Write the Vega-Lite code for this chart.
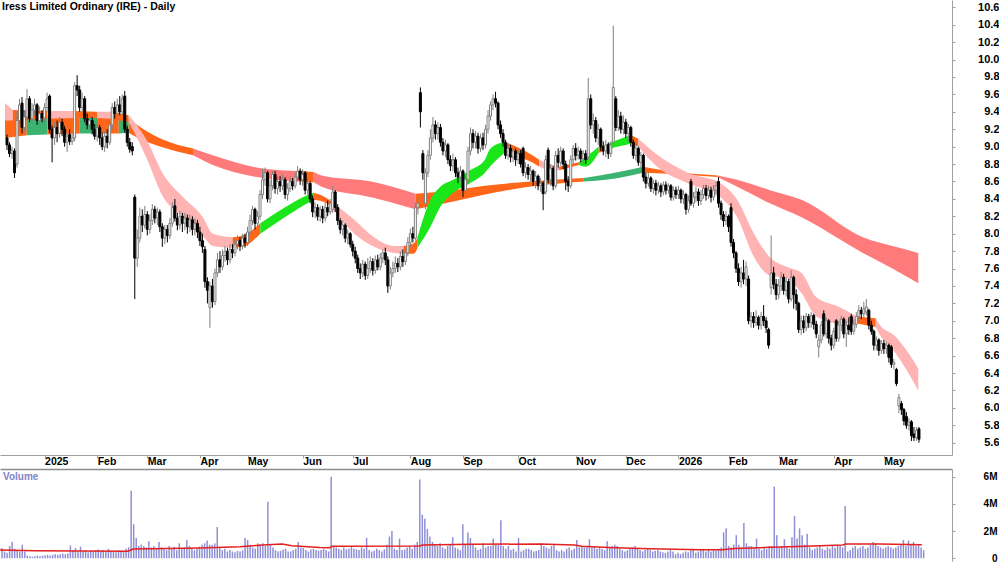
{
"$schema": "https://vega.github.io/schema/vega-lite/v6.json",
"padding": 0,
"background": "white",
"spacing": 14,
"bounds": "flush",
"config": {"view": {"stroke": null}, "font": "Liberation Sans"},
"datasets": {
"c": [
{"i":-15,"o":9.10,"h":9.14,"l":8.96,"c":9.02,"v":0.75},
{"i":-14,"o":9.02,"h":9.05,"l":8.88,"c":8.92,"v":0.5},
{"i":-13,"o":8.92,"h":9.00,"l":8.86,"c":8.96,"v":0.4},
{"i":-12,"o":8.95,"h":8.98,"l":8.64,"c":8.70,"v":0.9},
{"i":-11,"o":8.80,"h":9.40,"l":8.76,"c":9.30,"v":1.2},
{"i":-10,"o":9.30,"h":9.55,"l":9.26,"c":9.48,"v":0.7},
{"i":-9,"o":9.50,"h":9.57,"l":9.15,"c":9.22,"v":0.6},
{"i":-8,"o":9.22,"h":9.42,"l":9.18,"c":9.34,"v":0.5},
{"i":-7,"o":9.34,"h":9.66,"l":9.30,"c":9.55,"v":1.0},
{"i":-6,"o":9.55,"h":9.58,"l":9.28,"c":9.32,"v":0.5},
{"i":-5,"o":9.32,"h":9.50,"l":9.28,"c":9.42,"v":0.2},
{"i":-4,"o":9.42,"h":9.55,"l":9.36,"c":9.48,"v":0.15},
{"i":-3,"o":9.48,"h":9.50,"l":9.25,"c":9.30,"v":0.12},
{"i":-2,"o":9.30,"h":9.46,"l":9.26,"c":9.38,"v":0.15},
{"i":-1,"o":9.38,"h":9.42,"l":9.28,"c":9.33,"v":0.2},
{"i":0,"o":9.33,"h":9.50,"l":9.28,"c":9.45,"v":0.15},
{"i":1,"o":9.45,"h":9.62,"l":9.40,"c":9.55,"v":0.2},
{"i":2,"o":9.58,"h":9.60,"l":9.16,"c":9.20,"v":0.2},
{"i":3,"o":9.20,"h":9.24,"l":8.82,"c":9.10,"v":0.25},
{"i":4,"o":9.10,"h":9.28,"l":9.02,"c":9.22,"v":0.2},
{"i":5,"o":9.22,"h":9.30,"l":9.05,"c":9.15,"v":0.25},
{"i":6,"o":9.15,"h":9.34,"l":9.10,"c":9.28,"v":0.3},
{"i":7,"o":9.28,"h":9.32,"l":9.12,"c":9.20,"v":0.25},
{"i":8,"o":9.20,"h":9.24,"l":9.00,"c":9.05,"v":0.3},
{"i":9,"o":9.05,"h":9.18,"l":8.94,"c":9.12,"v":0.35},
{"i":10,"o":9.14,"h":9.20,"l":9.02,"c":9.06,"v":0.3},
{"i":11,"o":9.06,"h":9.16,"l":9.02,"c":9.10,"v":0.35},
{"i":12,"o":9.10,"h":9.74,"l":9.06,"c":9.70,"v":0.95},
{"i":13,"o":9.70,"h":9.82,"l":9.58,"c":9.65,"v":0.6},
{"i":14,"o":9.65,"h":9.70,"l":9.40,"c":9.45,"v":0.75},
{"i":15,"o":9.45,"h":9.62,"l":9.40,"c":9.55,"v":0.5},
{"i":16,"o":9.55,"h":9.58,"l":9.28,"c":9.32,"v":0.85},
{"i":17,"o":9.32,"h":9.38,"l":9.20,"c":9.25,"v":0.5},
{"i":18,"o":9.25,"h":9.36,"l":9.18,"c":9.30,"v":0.6},
{"i":19,"o":9.30,"h":9.34,"l":9.14,"c":9.20,"v":0.45},
{"i":20,"o":9.20,"h":9.26,"l":9.08,"c":9.12,"v":0.55},
{"i":21,"o":9.12,"h":9.28,"l":9.06,"c":9.22,"v":0.5},
{"i":22,"o":9.22,"h":9.25,"l":9.02,"c":9.10,"v":0.6},
{"i":23,"o":9.10,"h":9.16,"l":8.96,"c":9.00,"v":0.65},
{"i":24,"o":9.00,"h":9.18,"l":8.94,"c":9.12,"v":0.55},
{"i":25,"o":9.12,"h":9.20,"l":8.98,"c":9.05,"v":0.6},
{"i":26,"o":9.05,"h":9.30,"l":9.02,"c":9.25,"v":0.5},
{"i":27,"o":9.25,"h":9.50,"l":9.20,"c":9.45,"v":0.7},
{"i":28,"o":9.45,"h":9.52,"l":9.32,"c":9.38,"v":0.55},
{"i":29,"o":9.38,"h":9.55,"l":9.34,"c":9.48,"v":0.5},
{"i":30,"o":9.48,"h":9.58,"l":9.36,"c":9.40,"v":0.45},
{"i":31,"o":9.40,"h":9.60,"l":9.36,"c":9.55,"v":0.6},
{"i":32,"o":9.58,"h":9.64,"l":9.16,"c":9.20,"v":0.55},
{"i":33,"o":9.20,"h":9.24,"l":9.00,"c":9.05,"v":0.5},
{"i":34,"o":9.05,"h":9.10,"l":8.93,"c":8.97,"v":0.7},
{"i":35,"o":9.00,"h":9.05,"l":8.90,"c":8.95,"v":0.8},
{"i":36,"o":8.42,"h":8.45,"l":7.25,"c":7.72,"v":4.97},
{"i":37,"o":7.72,"h":8.05,"l":7.62,"c":7.95,"v":2.5},
{"i":38,"o":7.95,"h":8.30,"l":7.90,"c":8.20,"v":1.5},
{"i":39,"o":8.20,"h":8.28,"l":8.02,"c":8.10,"v":0.9},
{"i":40,"o":8.10,"h":8.32,"l":8.06,"c":8.22,"v":1.0},
{"i":41,"o":8.22,"h":8.26,"l":7.98,"c":8.05,"v":0.9},
{"i":42,"o":8.05,"h":8.22,"l":8.00,"c":8.15,"v":0.8},
{"i":43,"o":8.15,"h":8.34,"l":8.10,"c":8.28,"v":1.25},
{"i":44,"o":8.28,"h":8.32,"l":8.12,"c":8.18,"v":0.8},
{"i":45,"o":8.18,"h":8.30,"l":8.10,"c":8.25,"v":0.9},
{"i":46,"o":8.25,"h":8.28,"l":8.02,"c":8.08,"v":0.75},
{"i":47,"o":8.08,"h":8.12,"l":7.85,"c":7.95,"v":1.2},
{"i":48,"o":7.95,"h":8.10,"l":7.88,"c":8.05,"v":0.8},
{"i":49,"o":8.05,"h":8.10,"l":7.90,"c":7.98,"v":0.7},
{"i":50,"o":7.98,"h":8.18,"l":7.94,"c":8.12,"v":0.6},
{"i":51,"o":8.12,"h":8.36,"l":8.08,"c":8.30,"v":0.9},
{"i":52,"o":8.32,"h":8.40,"l":8.14,"c":8.18,"v":0.7},
{"i":53,"o":8.18,"h":8.24,"l":8.04,"c":8.10,"v":0.85},
{"i":54,"o":8.10,"h":8.26,"l":8.05,"c":8.20,"v":0.6},
{"i":55,"o":8.20,"h":8.24,"l":8.02,"c":8.12,"v":1.1},
{"i":56,"o":8.12,"h":8.24,"l":8.04,"c":8.18,"v":0.7},
{"i":57,"o":8.18,"h":8.22,"l":8.00,"c":8.08,"v":0.8},
{"i":58,"o":8.08,"h":8.22,"l":8.02,"c":8.16,"v":1.35},
{"i":59,"o":8.16,"h":8.20,"l":7.98,"c":8.05,"v":0.9},
{"i":60,"o":8.05,"h":8.18,"l":7.98,"c":8.12,"v":0.75},
{"i":61,"o":8.12,"h":8.16,"l":7.95,"c":8.02,"v":0.6},
{"i":62,"o":8.02,"h":8.08,"l":7.86,"c":7.92,"v":0.7},
{"i":63,"o":7.92,"h":8.00,"l":7.78,"c":7.85,"v":0.85},
{"i":64,"o":7.82,"h":7.86,"l":7.38,"c":7.45,"v":1.0},
{"i":65,"o":7.45,"h":7.50,"l":7.20,"c":7.35,"v":1.1},
{"i":66,"o":7.15,"h":7.45,"l":6.92,"c":7.40,"v":1.3},
{"i":67,"o":7.40,"h":7.48,"l":7.15,"c":7.22,"v":1.0},
{"i":68,"o":7.22,"h":7.60,"l":7.18,"c":7.55,"v":1.0},
{"i":69,"o":7.55,"h":7.78,"l":7.50,"c":7.70,"v":1.1},
{"i":70,"o":7.70,"h":7.80,"l":7.55,"c":7.62,"v":2.3},
{"i":71,"o":7.62,"h":7.82,"l":7.58,"c":7.75,"v":0.8},
{"i":72,"o":7.75,"h":7.86,"l":7.68,"c":7.80,"v":0.6},
{"i":73,"o":7.80,"h":7.84,"l":7.64,"c":7.70,"v":0.7},
{"i":74,"o":7.70,"h":7.88,"l":7.66,"c":7.82,"v":0.5},
{"i":75,"o":7.82,"h":7.88,"l":7.72,"c":7.78,"v":0.6},
{"i":76,"o":7.78,"h":7.94,"l":7.74,"c":7.88,"v":0.5},
{"i":77,"o":7.88,"h":7.98,"l":7.82,"c":7.92,"v":0.45},
{"i":78,"o":7.92,"h":7.96,"l":7.80,"c":7.86,"v":0.55},
{"i":79,"o":7.86,"h":8.00,"l":7.82,"c":7.95,"v":0.5},
{"i":80,"o":7.95,"h":8.00,"l":7.84,"c":7.90,"v":0.6},
{"i":81,"o":7.90,"h":8.08,"l":7.86,"c":8.02,"v":1.5},
{"i":82,"o":8.02,"h":8.22,"l":7.98,"c":8.15,"v":1.35},
{"i":83,"o":8.15,"h":8.32,"l":8.10,"c":8.28,"v":1.0},
{"i":84,"o":8.28,"h":8.30,"l":8.05,"c":8.12,"v":0.8},
{"i":85,"o":8.12,"h":8.26,"l":8.08,"c":8.20,"v":0.7},
{"i":86,"o":8.20,"h":8.50,"l":8.16,"c":8.45,"v":1.1},
{"i":87,"o":8.45,"h":8.75,"l":8.40,"c":8.62,"v":1.0},
{"i":88,"o":8.62,"h":8.76,"l":8.55,"c":8.70,"v":1.1},
{"i":89,"o":8.70,"h":8.72,"l":8.36,"c":8.40,"v":0.9},
{"i":90,"o":8.40,"h":8.62,"l":8.35,"c":8.55,"v":4.16},
{"i":91,"o":8.55,"h":8.72,"l":8.50,"c":8.68,"v":1.0},
{"i":92,"o":8.68,"h":8.72,"l":8.46,"c":8.52,"v":0.8},
{"i":93,"o":8.52,"h":8.66,"l":8.45,"c":8.60,"v":0.6},
{"i":94,"o":8.60,"h":8.66,"l":8.48,"c":8.55,"v":0.5},
{"i":95,"o":8.55,"h":8.68,"l":8.50,"c":8.62,"v":0.55},
{"i":96,"o":8.62,"h":8.65,"l":8.40,"c":8.45,"v":0.65},
{"i":97,"o":8.45,"h":8.58,"l":8.38,"c":8.52,"v":0.7},
{"i":98,"o":8.52,"h":8.66,"l":8.48,"c":8.60,"v":0.5},
{"i":99,"o":8.60,"h":8.64,"l":8.50,"c":8.55,"v":0.5},
{"i":100,"o":8.55,"h":8.70,"l":8.52,"c":8.65,"v":0.6},
{"i":101,"o":8.65,"h":8.78,"l":8.60,"c":8.72,"v":0.7},
{"i":102,"o":8.72,"h":8.75,"l":8.56,"c":8.62,"v":1.2},
{"i":103,"o":8.62,"h":8.74,"l":8.55,"c":8.68,"v":0.8},
{"i":104,"o":8.70,"h":8.72,"l":8.45,"c":8.50,"v":0.75},
{"i":105,"o":8.50,"h":8.64,"l":8.45,"c":8.58,"v":0.6},
{"i":106,"o":8.58,"h":8.60,"l":8.35,"c":8.40,"v":0.5},
{"i":107,"o":8.40,"h":8.44,"l":8.19,"c":8.25,"v":0.65},
{"i":108,"o":8.25,"h":8.36,"l":8.18,"c":8.30,"v":0.7},
{"i":109,"o":8.30,"h":8.34,"l":8.15,"c":8.20,"v":0.6},
{"i":110,"o":8.20,"h":8.32,"l":8.14,"c":8.28,"v":0.55},
{"i":111,"o":8.28,"h":8.32,"l":8.12,"c":8.18,"v":0.6},
{"i":112,"o":8.18,"h":8.36,"l":8.14,"c":8.30,"v":0.7},
{"i":113,"o":8.30,"h":8.38,"l":8.20,"c":8.25,"v":0.6},
{"i":114,"o":8.25,"h":8.40,"l":8.22,"c":8.35,"v":0.5},
{"i":115,"o":8.28,"h":8.55,"l":8.24,"c":8.48,"v":6.0},
{"i":116,"o":8.48,"h":8.50,"l":8.25,"c":8.30,"v":0.9},
{"i":117,"o":8.30,"h":8.34,"l":8.10,"c":8.15,"v":0.8},
{"i":118,"o":8.15,"h":8.18,"l":8.00,"c":8.05,"v":0.7},
{"i":119,"o":8.05,"h":8.15,"l":7.98,"c":8.10,"v":0.6},
{"i":120,"o":8.10,"h":8.12,"l":7.90,"c":7.95,"v":0.8},
{"i":121,"o":7.95,"h":8.05,"l":7.88,"c":8.00,"v":0.65},
{"i":122,"o":8.00,"h":8.02,"l":7.84,"c":7.88,"v":0.7},
{"i":123,"o":7.88,"h":7.92,"l":7.74,"c":7.80,"v":0.9},
{"i":124,"o":7.80,"h":7.85,"l":7.66,"c":7.72,"v":0.7},
{"i":125,"o":7.72,"h":7.76,"l":7.55,"c":7.60,"v":0.65},
{"i":126,"o":7.60,"h":7.66,"l":7.48,"c":7.55,"v":0.6},
{"i":127,"o":7.55,"h":7.70,"l":7.50,"c":7.65,"v":0.8},
{"i":128,"o":7.65,"h":7.68,"l":7.47,"c":7.52,"v":0.7},
{"i":129,"o":7.52,"h":7.72,"l":7.48,"c":7.60,"v":1.5},
{"i":130,"o":7.60,"h":7.74,"l":7.55,"c":7.68,"v":0.6},
{"i":131,"o":7.68,"h":7.72,"l":7.52,"c":7.58,"v":0.5},
{"i":132,"o":7.58,"h":7.75,"l":7.54,"c":7.70,"v":0.55},
{"i":133,"o":7.70,"h":7.76,"l":7.58,"c":7.62,"v":0.7},
{"i":134,"o":7.62,"h":7.78,"l":7.58,"c":7.72,"v":0.6},
{"i":135,"o":7.72,"h":7.82,"l":7.66,"c":7.78,"v":0.5},
{"i":136,"o":7.78,"h":7.84,"l":7.64,"c":7.70,"v":0.65},
{"i":137,"o":7.70,"h":7.74,"l":7.32,"c":7.40,"v":1.0},
{"i":138,"o":7.40,"h":7.62,"l":7.36,"c":7.55,"v":1.6},
{"i":139,"o":7.55,"h":7.68,"l":7.50,"c":7.60,"v":2.0},
{"i":140,"o":7.60,"h":7.74,"l":7.55,"c":7.66,"v":0.7},
{"i":141,"o":7.66,"h":7.72,"l":7.56,"c":7.62,"v":0.6},
{"i":142,"o":7.62,"h":7.80,"l":7.58,"c":7.74,"v":1.45},
{"i":143,"o":7.74,"h":7.82,"l":7.62,"c":7.68,"v":0.6},
{"i":144,"o":7.68,"h":7.84,"l":7.64,"c":7.78,"v":0.65},
{"i":145,"o":7.78,"h":7.96,"l":7.74,"c":7.90,"v":0.8},
{"i":146,"o":7.90,"h":8.06,"l":7.85,"c":8.00,"v":0.9},
{"i":147,"o":8.00,"h":8.08,"l":7.90,"c":7.95,"v":0.7},
{"i":148,"o":7.95,"h":8.36,"l":7.92,"c":8.30,"v":1.0},
{"i":149,"o":8.30,"h":8.42,"l":8.22,"c":8.35,"v":1.2},
{"i":150,"o":9.62,"h":9.68,"l":9.22,"c":9.40,"v":5.8},
{"i":151,"o":8.92,"h":8.96,"l":8.62,"c":8.70,"v":3.2},
{"i":152,"o":8.35,"h":8.75,"l":8.28,"c":8.70,"v":2.9},
{"i":153,"o":8.70,"h":8.96,"l":8.65,"c":8.90,"v":2.15},
{"i":154,"o":8.90,"h":9.20,"l":8.85,"c":9.10,"v":1.6},
{"i":155,"o":9.10,"h":9.34,"l":9.05,"c":9.25,"v":1.2},
{"i":156,"o":9.25,"h":9.30,"l":9.08,"c":9.15,"v":1.0},
{"i":157,"o":9.15,"h":9.28,"l":9.08,"c":9.22,"v":0.9},
{"i":158,"o":9.22,"h":9.26,"l":9.00,"c":9.05,"v":1.1},
{"i":159,"o":9.05,"h":9.10,"l":8.90,"c":8.95,"v":0.8},
{"i":160,"o":8.95,"h":9.08,"l":8.88,"c":9.02,"v":0.7},
{"i":161,"o":9.02,"h":9.04,"l":8.80,"c":8.85,"v":0.9},
{"i":162,"o":8.85,"h":8.90,"l":8.72,"c":8.78,"v":1.0},
{"i":163,"o":8.78,"h":8.92,"l":8.72,"c":8.85,"v":1.55},
{"i":164,"o":8.85,"h":8.88,"l":8.65,"c":8.70,"v":0.8},
{"i":165,"o":8.70,"h":8.76,"l":8.58,"c":8.65,"v":0.7},
{"i":166,"o":8.65,"h":8.78,"l":8.60,"c":8.72,"v":0.6},
{"i":167,"o":8.72,"h":8.74,"l":8.42,"c":8.50,"v":2.5},
{"i":168,"o":8.50,"h":8.66,"l":8.45,"c":8.62,"v":1.0},
{"i":169,"o":8.62,"h":9.00,"l":8.58,"c":8.95,"v":1.9},
{"i":170,"o":8.95,"h":9.22,"l":8.90,"c":9.15,"v":1.5},
{"i":171,"o":9.15,"h":9.20,"l":8.98,"c":9.05,"v":1.0},
{"i":172,"o":9.05,"h":9.18,"l":8.98,"c":9.12,"v":0.8},
{"i":173,"o":9.12,"h":9.16,"l":8.92,"c":8.98,"v":0.6},
{"i":174,"o":8.98,"h":9.15,"l":8.94,"c":9.10,"v":0.7},
{"i":175,"o":9.10,"h":9.16,"l":8.96,"c":9.02,"v":1.1},
{"i":176,"o":9.02,"h":9.25,"l":8.98,"c":9.20,"v":0.8},
{"i":177,"o":9.20,"h":9.42,"l":9.15,"c":9.35,"v":0.9},
{"i":178,"o":9.35,"h":9.52,"l":9.30,"c":9.48,"v":0.9},
{"i":179,"o":9.48,"h":9.60,"l":9.42,"c":9.55,"v":1.45},
{"i":180,"o":9.55,"h":9.63,"l":9.45,"c":9.50,"v":1.0},
{"i":181,"o":9.50,"h":9.52,"l":9.20,"c":9.25,"v":1.0},
{"i":182,"o":9.25,"h":9.30,"l":9.10,"c":9.15,"v":2.8},
{"i":183,"o":9.15,"h":9.20,"l":9.00,"c":9.05,"v":0.9},
{"i":184,"o":9.05,"h":9.08,"l":8.86,"c":8.90,"v":0.7},
{"i":185,"o":8.90,"h":9.04,"l":8.85,"c":8.98,"v":0.9},
{"i":186,"o":8.98,"h":9.02,"l":8.82,"c":8.88,"v":0.6},
{"i":187,"o":8.88,"h":9.00,"l":8.82,"c":8.95,"v":0.7},
{"i":188,"o":8.95,"h":8.98,"l":8.78,"c":8.85,"v":0.5},
{"i":189,"o":8.85,"h":8.98,"l":8.80,"c":8.92,"v":1.5},
{"i":190,"o":8.92,"h":8.96,"l":8.76,"c":8.80,"v":0.5},
{"i":191,"o":8.98,"h":9.00,"l":8.66,"c":8.70,"v":0.6},
{"i":192,"o":8.70,"h":8.82,"l":8.64,"c":8.76,"v":0.7},
{"i":193,"o":8.76,"h":8.80,"l":8.62,"c":8.68,"v":0.7},
{"i":194,"o":8.68,"h":8.78,"l":8.60,"c":8.72,"v":0.6},
{"i":195,"o":8.72,"h":8.74,"l":8.55,"c":8.60,"v":0.5},
{"i":196,"o":8.60,"h":8.72,"l":8.52,"c":8.66,"v":0.55},
{"i":197,"o":8.66,"h":8.68,"l":8.50,"c":8.55,"v":0.6},
{"i":198,"o":8.55,"h":8.64,"l":8.48,"c":8.58,"v":1.1},
{"i":199,"o":8.58,"h":8.60,"l":8.27,"c":8.46,"v":0.9},
{"i":200,"o":8.48,"h":8.90,"l":8.45,"c":8.85,"v":0.8},
{"i":201,"o":8.96,"h":8.99,"l":8.58,"c":8.62,"v":0.7},
{"i":202,"o":8.62,"h":8.80,"l":8.55,"c":8.75,"v":0.9},
{"i":203,"o":8.75,"h":8.78,"l":8.50,"c":8.55,"v":1.0},
{"i":204,"o":8.55,"h":8.95,"l":8.52,"c":8.90,"v":0.6},
{"i":205,"o":8.90,"h":8.98,"l":8.76,"c":8.82,"v":0.5},
{"i":206,"o":8.82,"h":9.00,"l":8.78,"c":8.95,"v":0.6},
{"i":207,"o":8.95,"h":8.98,"l":8.74,"c":8.80,"v":0.5},
{"i":208,"o":8.80,"h":8.84,"l":8.50,"c":8.60,"v":0.7},
{"i":209,"o":8.60,"h":8.66,"l":8.48,"c":8.55,"v":0.8},
{"i":210,"o":8.55,"h":8.90,"l":8.52,"c":8.85,"v":0.6},
{"i":211,"o":8.85,"h":9.02,"l":8.80,"c":8.98,"v":0.7},
{"i":212,"o":8.98,"h":9.04,"l":8.84,"c":8.90,"v":1.35},
{"i":213,"o":8.90,"h":9.00,"l":8.85,"c":8.95,"v":0.8},
{"i":214,"o":8.95,"h":8.98,"l":8.82,"c":8.86,"v":0.9},
{"i":215,"o":8.86,"h":8.96,"l":8.80,"c":8.92,"v":0.8},
{"i":216,"o":8.92,"h":8.96,"l":8.80,"c":8.85,"v":0.9},
{"i":217,"o":8.88,"h":9.79,"l":8.85,"c":9.55,"v":1.4},
{"i":218,"o":9.55,"h":9.60,"l":9.20,"c":9.25,"v":0.8},
{"i":219,"o":9.25,"h":9.38,"l":9.15,"c":9.30,"v":0.9},
{"i":220,"o":9.30,"h":9.34,"l":9.05,"c":9.10,"v":0.7},
{"i":221,"o":9.10,"h":9.26,"l":9.02,"c":9.20,"v":0.8},
{"i":222,"o":9.20,"h":9.22,"l":8.95,"c":9.00,"v":0.7},
{"i":223,"o":9.00,"h":9.06,"l":8.90,"c":8.95,"v":0.6},
{"i":224,"o":8.95,"h":9.08,"l":8.88,"c":9.02,"v":1.25},
{"i":225,"o":9.02,"h":9.05,"l":8.86,"c":8.92,"v":0.8},
{"i":226,"o":8.92,"h":9.06,"l":8.88,"c":9.02,"v":0.9},
{"i":227,"o":9.05,"h":10.39,"l":9.02,"c":9.68,"v":1.0},
{"i":228,"o":9.55,"h":9.58,"l":9.18,"c":9.22,"v":0.9},
{"i":229,"o":9.22,"h":9.42,"l":9.18,"c":9.35,"v":0.7},
{"i":230,"o":9.35,"h":9.40,"l":9.15,"c":9.20,"v":0.6},
{"i":231,"o":9.20,"h":9.36,"l":9.14,"c":9.28,"v":0.5},
{"i":232,"o":9.28,"h":9.32,"l":9.10,"c":9.15,"v":0.6},
{"i":233,"o":9.15,"h":9.26,"l":9.06,"c":9.22,"v":0.7},
{"i":234,"o":9.22,"h":9.24,"l":9.00,"c":9.05,"v":0.8},
{"i":235,"o":9.05,"h":9.08,"l":8.86,"c":8.90,"v":0.9},
{"i":236,"o":8.90,"h":9.04,"l":8.84,"c":8.98,"v":0.7},
{"i":237,"o":8.98,"h":9.00,"l":8.78,"c":8.82,"v":0.6},
{"i":238,"o":8.82,"h":8.94,"l":8.76,"c":8.90,"v":0.5},
{"i":239,"o":8.90,"h":8.92,"l":8.60,"c":8.65,"v":0.6},
{"i":240,"o":8.65,"h":8.70,"l":8.52,"c":8.58,"v":0.7},
{"i":241,"o":8.58,"h":8.70,"l":8.54,"c":8.64,"v":0.6},
{"i":242,"o":8.64,"h":8.66,"l":8.48,"c":8.52,"v":0.5},
{"i":243,"o":8.52,"h":8.62,"l":8.46,"c":8.58,"v":0.55},
{"i":244,"o":8.58,"h":8.62,"l":8.44,"c":8.50,"v":0.6},
{"i":245,"o":8.50,"h":8.60,"l":8.46,"c":8.55,"v":0.5},
{"i":246,"o":8.55,"h":8.58,"l":8.42,"c":8.48,"v":0.45},
{"i":247,"o":8.48,"h":8.60,"l":8.44,"c":8.56,"v":0.4},
{"i":248,"o":8.56,"h":8.60,"l":8.45,"c":8.50,"v":0.5},
{"i":249,"o":8.50,"h":8.58,"l":8.46,"c":8.55,"v":0.6},
{"i":250,"o":8.55,"h":8.57,"l":8.38,"c":8.42,"v":0.5},
{"i":251,"o":8.42,"h":8.54,"l":8.38,"c":8.50,"v":0.3},
{"i":252,"o":8.50,"h":8.54,"l":8.40,"c":8.45,"v":0.4},
{"i":253,"o":8.45,"h":8.55,"l":8.40,"c":8.50,"v":0.3},
{"i":254,"o":8.50,"h":8.52,"l":8.35,"c":8.40,"v":0.4},
{"i":255,"o":8.40,"h":8.50,"l":8.34,"c":8.45,"v":0.5},
{"i":256,"o":8.45,"h":8.47,"l":8.22,"c":8.28,"v":0.45},
{"i":257,"o":8.28,"h":8.44,"l":8.24,"c":8.38,"v":0.6},
{"i":258,"o":8.60,"h":8.63,"l":8.32,"c":8.35,"v":0.7},
{"i":259,"o":8.35,"h":8.48,"l":8.30,"c":8.42,"v":0.4},
{"i":260,"o":8.42,"h":8.54,"l":8.36,"c":8.48,"v":0.5},
{"i":261,"o":8.48,"h":8.52,"l":8.32,"c":8.38,"v":0.6},
{"i":262,"o":8.38,"h":8.50,"l":8.33,"c":8.45,"v":0.7},
{"i":263,"o":8.45,"h":8.56,"l":8.40,"c":8.52,"v":0.5},
{"i":264,"o":8.52,"h":8.56,"l":8.38,"c":8.44,"v":0.6},
{"i":265,"o":8.44,"h":8.55,"l":8.40,"c":8.50,"v":0.5},
{"i":266,"o":8.50,"h":8.54,"l":8.36,"c":8.42,"v":0.6},
{"i":267,"o":8.42,"h":8.56,"l":8.38,"c":8.50,"v":0.55},
{"i":268,"o":8.50,"h":8.60,"l":8.44,"c":8.55,"v":0.7},
{"i":269,"o":8.60,"h":8.65,"l":8.30,"c":8.35,"v":0.8},
{"i":270,"o":8.35,"h":8.38,"l":8.16,"c":8.22,"v":1.9},
{"i":271,"o":8.22,"h":8.26,"l":8.08,"c":8.15,"v":2.2},
{"i":272,"o":8.15,"h":8.26,"l":8.10,"c":8.20,"v":0.9},
{"i":273,"o":8.20,"h":8.22,"l":8.02,"c":8.08,"v":0.8},
{"i":274,"o":8.30,"h":8.35,"l":7.85,"c":7.90,"v":1.0},
{"i":275,"o":7.90,"h":7.94,"l":7.72,"c":7.78,"v":1.7},
{"i":276,"o":7.78,"h":7.80,"l":7.55,"c":7.60,"v":1.0},
{"i":277,"o":7.60,"h":7.66,"l":7.40,"c":7.45,"v":0.8},
{"i":278,"o":7.45,"h":7.62,"l":7.38,"c":7.55,"v":2.6},
{"i":279,"o":7.55,"h":7.70,"l":7.42,"c":7.48,"v":1.1},
{"i":280,"o":7.48,"h":7.68,"l":7.40,"c":7.62,"v":0.9},
{"i":281,"o":7.48,"h":7.52,"l":6.96,"c":7.00,"v":0.9},
{"i":282,"o":7.00,"h":7.10,"l":6.92,"c":7.05,"v":0.8},
{"i":283,"o":7.05,"h":7.10,"l":6.92,"c":6.98,"v":1.45},
{"i":284,"o":6.98,"h":7.12,"l":6.94,"c":7.04,"v":0.7},
{"i":285,"o":7.04,"h":7.06,"l":6.90,"c":6.95,"v":0.6},
{"i":286,"o":6.95,"h":7.10,"l":6.90,"c":7.05,"v":0.8},
{"i":287,"o":7.05,"h":7.18,"l":6.94,"c":7.00,"v":0.7},
{"i":288,"o":7.00,"h":7.04,"l":6.86,"c":6.92,"v":0.9},
{"i":289,"o":6.90,"h":6.92,"l":6.68,"c":6.72,"v":0.9},
{"i":290,"o":7.38,"h":7.98,"l":7.30,"c":7.55,"v":5.27},
{"i":291,"o":7.55,"h":7.62,"l":7.36,"c":7.42,"v":1.7},
{"i":292,"o":7.42,"h":7.48,"l":7.24,"c":7.30,"v":0.8},
{"i":293,"o":7.30,"h":7.48,"l":7.25,"c":7.40,"v":0.9},
{"i":294,"o":7.40,"h":7.56,"l":7.34,"c":7.50,"v":1.4},
{"i":295,"o":7.50,"h":7.54,"l":7.30,"c":7.35,"v":0.8},
{"i":296,"o":7.35,"h":7.50,"l":7.28,"c":7.45,"v":0.7},
{"i":297,"o":7.45,"h":7.48,"l":7.20,"c":7.25,"v":1.55},
{"i":298,"o":7.25,"h":7.58,"l":7.22,"c":7.50,"v":3.1},
{"i":299,"o":7.50,"h":7.52,"l":7.14,"c":7.30,"v":1.45},
{"i":300,"o":7.30,"h":7.36,"l":7.12,"c":7.20,"v":2.2},
{"i":301,"o":7.20,"h":7.22,"l":6.86,"c":6.90,"v":1.7},
{"i":302,"o":6.90,"h":7.06,"l":6.84,"c":7.00,"v":1.0},
{"i":303,"o":7.00,"h":7.06,"l":6.86,"c":6.92,"v":1.8},
{"i":304,"o":6.92,"h":7.09,"l":6.88,"c":7.05,"v":0.8},
{"i":305,"o":7.05,"h":7.08,"l":6.92,"c":6.98,"v":0.6},
{"i":306,"o":6.98,"h":7.10,"l":6.92,"c":7.06,"v":0.7},
{"i":307,"o":7.06,"h":7.08,"l":6.90,"c":6.96,"v":0.8},
{"i":308,"o":6.96,"h":7.00,"l":6.80,"c":6.85,"v":0.9},
{"i":309,"o":6.70,"h":6.84,"l":6.58,"c":6.78,"v":0.7},
{"i":310,"o":6.78,"h":7.00,"l":6.74,"c":6.95,"v":0.6},
{"i":311,"o":7.08,"h":7.12,"l":6.82,"c":6.85,"v":0.8},
{"i":312,"o":6.85,"h":7.04,"l":6.80,"c":7.00,"v":0.7},
{"i":313,"o":7.00,"h":7.02,"l":6.74,"c":6.80,"v":0.9},
{"i":314,"o":6.80,"h":6.84,"l":6.66,"c":6.72,"v":0.8},
{"i":315,"o":6.72,"h":6.92,"l":6.68,"c":6.88,"v":1.0},
{"i":316,"o":7.00,"h":7.02,"l":6.76,"c":6.80,"v":0.9},
{"i":317,"o":6.80,"h":7.00,"l":6.76,"c":6.95,"v":0.8},
{"i":318,"o":6.95,"h":7.06,"l":6.88,"c":7.02,"v":3.85},
{"i":319,"o":7.02,"h":7.04,"l":6.80,"c":6.85,"v":0.5},
{"i":320,"o":6.85,"h":7.00,"l":6.70,"c":6.95,"v":0.6},
{"i":321,"o":6.95,"h":7.04,"l":6.84,"c":6.90,"v":0.8},
{"i":322,"o":7.05,"h":7.08,"l":6.84,"c":6.88,"v":0.9},
{"i":323,"o":6.88,"h":7.02,"l":6.84,"c":6.96,"v":0.7},
{"i":324,"o":6.96,"h":7.10,"l":6.92,"c":7.05,"v":0.8},
{"i":325,"o":7.05,"h":7.18,"l":7.00,"c":7.12,"v":0.9},
{"i":326,"o":7.12,"h":7.16,"l":7.02,"c":7.08,"v":0.7},
{"i":327,"o":7.08,"h":7.22,"l":7.04,"c":7.14,"v":0.8},
{"i":328,"o":7.10,"h":7.25,"l":7.06,"c":7.16,"v":1.0},
{"i":329,"o":7.12,"h":7.14,"l":6.90,"c":6.95,"v":1.2},
{"i":330,"o":6.95,"h":7.00,"l":6.84,"c":6.88,"v":1.1},
{"i":331,"o":6.88,"h":6.90,"l":6.66,"c":6.72,"v":0.9},
{"i":332,"o":6.72,"h":6.82,"l":6.66,"c":6.78,"v":0.8},
{"i":333,"o":6.78,"h":6.80,"l":6.60,"c":6.66,"v":0.7},
{"i":334,"o":6.66,"h":6.78,"l":6.62,"c":6.74,"v":0.8},
{"i":335,"o":6.74,"h":6.78,"l":6.62,"c":6.68,"v":0.9},
{"i":336,"o":6.68,"h":6.76,"l":6.62,"c":6.72,"v":0.8},
{"i":337,"o":6.72,"h":6.74,"l":6.52,"c":6.58,"v":0.7},
{"i":338,"o":6.70,"h":6.72,"l":6.46,"c":6.50,"v":0.8},
{"i":339,"o":6.50,"h":6.56,"l":6.44,"c":6.52,"v":0.9},
{"i":340,"o":6.44,"h":6.46,"l":6.25,"c":6.28,"v":1.0},
{"i":341,"o":6.02,"h":6.16,"l":5.94,"c":6.12,"v":1.35},
{"i":342,"o":6.05,"h":6.08,"l":5.92,"c":5.98,"v":0.9},
{"i":343,"o":5.98,"h":6.00,"l":5.80,"c":5.85,"v":1.3},
{"i":344,"o":5.90,"h":5.95,"l":5.76,"c":5.80,"v":1.0},
{"i":345,"o":5.80,"h":5.88,"l":5.74,"c":5.84,"v":1.2},
{"i":346,"o":5.84,"h":5.86,"l":5.62,"c":5.68,"v":0.9},
{"i":347,"o":5.70,"h":5.78,"l":5.62,"c":5.66,"v":1.0},
{"i":348,"o":5.66,"h":5.78,"l":5.62,"c":5.74,"v":0.8},
{"i":349,"o":5.76,"h":5.78,"l":5.60,"c":5.64,"v":0.6}
],
"bl": [
{"i":-15.8,"lo":9.1,"hi":9.33,"s":"L1","k":"orange"},
{"i":-7.11,"lo":9.13,"hi":9.34,"s":"L1","k":"orange"},
{"i":-7.11,"lo":9.13,"hi":9.34,"s":"L2","k":"sea"},
{"i":1.18,"lo":9.14,"hi":9.35,"s":"L2","k":"sea"},
{"i":1.18,"lo":9.14,"hi":9.35,"s":"L3","k":"orange"},
{"i":13.82,"lo":9.15,"hi":9.35,"s":"L3","k":"orange"},
{"i":13.82,"lo":9.15,"hi":9.35,"s":"L4","k":"sea"},
{"i":20.93,"lo":9.15,"hi":9.34,"s":"L4","k":"sea"},
{"i":20.93,"lo":9.15,"hi":9.34,"s":"L5","k":"orange"},
{"i":29.62,"lo":9.15,"hi":9.33,"s":"L5","k":"orange"},
{"i":29.62,"lo":9.15,"hi":9.33,"s":"L6","k":"sea"},
{"i":33.57,"lo":9.16,"hi":9.32,"s":"L6","k":"sea"},
{"i":33.57,"lo":9.16,"hi":9.32,"s":"L7","k":"orange"},
{"i":39.49,"lo":9.07,"hi":9.2,"s":"L7","k":"orange"},
{"i":47.39,"lo":8.99,"hi":9.08,"s":"L7","k":"orange"},
{"i":59.24,"lo":8.9,"hi":8.98,"s":"L7","k":"orange"},
{"i":59.24,"lo":8.9,"hi":8.98,"s":"L8","k":"salmon"},
{"i":67.14,"lo":8.79,"hi":8.9,"s":"L8","k":"salmon"},
{"i":86.89,"lo":8.64,"hi":8.75,"s":"L8","k":"salmon"},
{"i":101.9,"lo":8.6,"hi":8.72,"s":"L8","k":"salmon"},
{"i":101.9,"lo":8.6,"hi":8.72,"s":"L9","k":"orange"},
{"i":107.42,"lo":8.59,"hi":8.71,"s":"L9","k":"orange"},
{"i":107.42,"lo":8.59,"hi":8.71,"s":"L10","k":"salmon"},
{"i":110.58,"lo":8.54,"hi":8.67,"s":"L10","k":"salmon"},
{"i":130.33,"lo":8.42,"hi":8.6,"s":"L10","k":"salmon"},
{"i":148.1,"lo":8.28,"hi":8.46,"s":"L10","k":"salmon"},
{"i":148.1,"lo":8.28,"hi":8.46,"s":"L11","k":"orange"},
{"i":163.11,"lo":8.37,"hi":8.5,"s":"L11","k":"orange"},
{"i":175.75,"lo":8.45,"hi":8.55,"s":"L11","k":"orange"},
{"i":193.52,"lo":8.54,"hi":8.6,"s":"L11","k":"orange"},
{"i":215.24,"lo":8.6,"hi":8.64,"s":"L11","k":"orange"},
{"i":215.24,"lo":8.6,"hi":8.64,"s":"L12","k":"sea"},
{"i":229.07,"lo":8.64,"hi":8.71,"s":"L12","k":"sea"},
{"i":238.94,"lo":8.7,"hi":8.77,"s":"L12","k":"sea"},
{"i":238.94,"lo":8.7,"hi":8.77,"s":"L13","k":"orange"},
{"i":248.82,"lo":8.69,"hi":8.72,"s":"L13","k":"orange"},
{"i":268.56,"lo":8.65,"hi":8.67,"s":"L13","k":"orange"},
{"i":268.56,"lo":8.65,"hi":8.67,"s":"L14","k":"salmon"},
{"i":276.46,"lo":8.54,"hi":8.62,"s":"L14","k":"salmon"},
{"i":289.49,"lo":8.35,"hi":8.5,"s":"L14","k":"salmon"},
{"i":302.13,"lo":8.19,"hi":8.39,"s":"L14","k":"salmon"},
{"i":326.62,"lo":7.78,"hi":7.96,"s":"L14","k":"salmon"},
{"i":339.65,"lo":7.58,"hi":7.85,"s":"L14","k":"salmon"},
{"i":348.74,"lo":7.43,"hi":7.78,"s":"L14","k":"salmon"}
],
"bs": [
{"i":-15.8,"lo":9.3,"hi":9.5,"s":"S1","k":"pink"},
{"i":-12.64,"lo":9.3,"hi":9.42,"s":"S1","k":"pink"},
{"i":-12.64,"lo":9.3,"hi":9.42,"s":"S2","k":"orange"},
{"i":1.18,"lo":9.32,"hi":9.41,"s":"S2","k":"orange"},
{"i":1.18,"lo":9.32,"hi":9.41,"s":"S3","k":"pink"},
{"i":11.85,"lo":9.33,"hi":9.41,"s":"S3","k":"pink"},
{"i":11.85,"lo":9.33,"hi":9.41,"s":"S4","k":"orange"},
{"i":20.93,"lo":9.33,"hi":9.4,"s":"S4","k":"orange"},
{"i":20.93,"lo":9.33,"hi":9.4,"s":"S5","k":"pink"},
{"i":26.46,"lo":9.32,"hi":9.4,"s":"S5","k":"pink"},
{"i":26.46,"lo":9.32,"hi":9.4,"s":"S6","k":"orange"},
{"i":33.57,"lo":9.28,"hi":9.36,"s":"S6","k":"orange"},
{"i":33.57,"lo":9.28,"hi":9.36,"s":"S7","k":"pink"},
{"i":34.76,"lo":9.22,"hi":9.32,"s":"S7","k":"pink"},
{"i":40.68,"lo":8.87,"hi":9.08,"s":"S7","k":"pink"},
{"i":47.39,"lo":8.42,"hi":8.68,"s":"S7","k":"pink"},
{"i":55.29,"lo":8.19,"hi":8.42,"s":"S7","k":"pink"},
{"i":63.19,"lo":7.97,"hi":8.19,"s":"S7","k":"pink"},
{"i":67.14,"lo":7.86,"hi":8.0,"s":"S7","k":"pink"},
{"i":75.04,"lo":7.84,"hi":7.96,"s":"S7","k":"pink"},
{"i":75.04,"lo":7.84,"hi":7.96,"s":"S8","k":"orange"},
{"i":78.99,"lo":7.85,"hi":7.98,"s":"S8","k":"orange"},
{"i":86.1,"lo":8.0,"hi":8.12,"s":"S8","k":"orange"},
{"i":86.1,"lo":8.0,"hi":8.12,"s":"S9","k":"green"},
{"i":97.55,"lo":8.22,"hi":8.33,"s":"S9","k":"green"},
{"i":105.45,"lo":8.36,"hi":8.45,"s":"S9","k":"green"},
{"i":107.42,"lo":8.39,"hi":8.47,"s":"S9","k":"green"},
{"i":107.42,"lo":8.39,"hi":8.47,"s":"S10","k":"orange"},
{"i":112.56,"lo":8.35,"hi":8.41,"s":"S10","k":"orange"},
{"i":114.53,"lo":8.3,"hi":8.37,"s":"S10","k":"orange"},
{"i":114.53,"lo":8.3,"hi":8.37,"s":"S11","k":"pink"},
{"i":123.62,"lo":8.0,"hi":8.16,"s":"S11","k":"pink"},
{"i":131.52,"lo":7.85,"hi":7.96,"s":"S11","k":"pink"},
{"i":139.42,"lo":7.78,"hi":7.86,"s":"S11","k":"pink"},
{"i":143.36,"lo":7.77,"hi":7.86,"s":"S11","k":"pink"},
{"i":143.36,"lo":7.77,"hi":7.86,"s":"S12","k":"orange"},
{"i":147.31,"lo":7.77,"hi":7.89,"s":"S12","k":"orange"},
{"i":148.89,"lo":7.84,"hi":7.96,"s":"S12","k":"orange"},
{"i":148.89,"lo":7.84,"hi":7.96,"s":"S13","k":"green"},
{"i":154.03,"lo":8.08,"hi":8.39,"s":"S13","k":"green"},
{"i":157.98,"lo":8.31,"hi":8.54,"s":"S13","k":"green"},
{"i":163.11,"lo":8.47,"hi":8.62,"s":"S13","k":"green"},
{"i":169.83,"lo":8.58,"hi":8.73,"s":"S13","k":"green"},
{"i":175.75,"lo":8.7,"hi":8.85,"s":"S13","k":"green"},
{"i":177.73,"lo":8.77,"hi":8.97,"s":"S13","k":"green"},
{"i":181.67,"lo":8.88,"hi":9.04,"s":"S13","k":"green"},
{"i":183.65,"lo":8.93,"hi":9.05,"s":"S13","k":"green"},
{"i":183.65,"lo":8.93,"hi":9.05,"s":"S14","k":"orange"},
{"i":186.81,"lo":8.88,"hi":9.02,"s":"S14","k":"orange"},
{"i":192.34,"lo":8.85,"hi":8.94,"s":"S14","k":"orange"},
{"i":197.47,"lo":8.77,"hi":8.85,"s":"S14","k":"orange"},
{"i":197.47,"lo":8.77,"hi":8.85,"s":"S15","k":"pink"},
{"i":202.61,"lo":8.73,"hi":8.79,"s":"S15","k":"pink"},
{"i":205.37,"lo":8.73,"hi":8.77,"s":"S15","k":"pink"},
{"i":205.37,"lo":8.73,"hi":8.77,"s":"S16","k":"orange"},
{"i":213.27,"lo":8.79,"hi":8.82,"s":"S16","k":"orange"},
{"i":213.27,"lo":8.79,"hi":8.82,"s":"S17","k":"green"},
{"i":216.04,"lo":8.77,"hi":8.88,"s":"S17","k":"green"},
{"i":221.17,"lo":8.93,"hi":9.0,"s":"S17","k":"green"},
{"i":221.17,"lo":8.93,"hi":9.0,"s":"S18","k":"orange"},
{"i":223.93,"lo":8.95,"hi":9.02,"s":"S18","k":"orange"},
{"i":223.93,"lo":8.95,"hi":9.02,"s":"S19","k":"green"},
{"i":226.3,"lo":8.98,"hi":9.05,"s":"S19","k":"green"},
{"i":231.83,"lo":9.02,"hi":9.11,"s":"S19","k":"green"},
{"i":234.2,"lo":9.04,"hi":9.13,"s":"S19","k":"green"},
{"i":234.2,"lo":9.04,"hi":9.13,"s":"S20","k":"orange"},
{"i":236.97,"lo":9.0,"hi":9.09,"s":"S20","k":"orange"},
{"i":236.97,"lo":9.0,"hi":9.09,"s":"S21","k":"pink"},
{"i":244.87,"lo":8.76,"hi":8.9,"s":"S21","k":"pink"},
{"i":256.71,"lo":8.58,"hi":8.7,"s":"S21","k":"pink"},
{"i":269.75,"lo":8.42,"hi":8.58,"s":"S21","k":"pink"},
{"i":276.46,"lo":8.19,"hi":8.39,"s":"S21","k":"pink"},
{"i":283.18,"lo":7.73,"hi":8.0,"s":"S21","k":"pink"},
{"i":289.49,"lo":7.52,"hi":7.73,"s":"S21","k":"pink"},
{"i":296.21,"lo":7.49,"hi":7.62,"s":"S21","k":"pink"},
{"i":302.13,"lo":7.32,"hi":7.55,"s":"S21","k":"pink"},
{"i":308.06,"lo":7.05,"hi":7.27,"s":"S21","k":"pink"},
{"i":317.14,"lo":6.97,"hi":7.16,"s":"S21","k":"pink"},
{"i":324.25,"lo":6.97,"hi":7.05,"s":"S21","k":"pink"},
{"i":324.25,"lo":6.97,"hi":7.05,"s":"S22","k":"orange"},
{"i":331.75,"lo":6.93,"hi":7.03,"s":"S22","k":"orange"},
{"i":331.75,"lo":6.93,"hi":7.03,"s":"S23","k":"pink"},
{"i":332.94,"lo":6.86,"hi":6.97,"s":"S23","k":"pink"},
{"i":339.65,"lo":6.63,"hi":6.82,"s":"S23","k":"pink"},
{"i":344.79,"lo":6.4,"hi":6.63,"s":"S23","k":"pink"},
{"i":348.74,"lo":6.2,"hi":6.45,"s":"S23","k":"pink"}
],
"m": [
{"i":-15.8,"m":0.6},{"i":-2,"m":0.55},{"i":34.8,"m":0.52},{"i":36.7,"m":0.68},{"i":63,"m":0.75},{"i":79,"m":0.85},{"i":87.7,"m":0.97},{"i":95.6,"m":1.05},{"i":99.5,"m":0.92},{"i":110.6,"m":0.8},{"i":114.5,"m":0.78},{"i":115.3,"m":0.88},{"i":150,"m":0.9},{"i":151,"m":0.97},{"i":170,"m":1.03},{"i":197.5,"m":1.05},{"i":211,"m":0.98},{"i":214,"m":0.88},{"i":227,"m":0.78},{"i":241,"m":0.7},{"i":260.7,"m":0.63},{"i":269.4,"m":0.63},{"i":274.5,"m":0.72},{"i":284.4,"m":0.78},{"i":296,"m":0.85},{"i":308,"m":0.92},{"i":317,"m":0.98},{"i":318.3,"m":1.05},{"i":331.8,"m":1.05},{"i":348.3,"m":1.0}
]
},
"vconcat": [
{
"width": 952,
"height": 455,
"title": {"text": "Iress Limited Ordinary (IRE) - Daily", "anchor": "start", "frame": "group", "orient": "top", "offset": -17, "baseline": "middle", "font": "Liberation Sans", "fontSize": 10.5, "fontWeight": "bold", "color": "#000000", "dx": 2},
"encoding": {
"x": {"field": "i", "type": "quantitative", "scale": {"domain": [-15.8, 360.2], "nice": false, "zero": false},
"axis": {"orient": "bottom", "title": null, "grid": false,
"values": [0,21,41,62,81,103,123,146,167,189,212,232,253,273,293,315,335],
"labelExpr": "['2025','Feb','Mar','Apr','May','Jun','Jul','Aug','Sep','Oct','Nov','Dec','2026','Feb','Mar','Apr','May'][indexof([0,21,41,62,81,103,123,146,167,189,212,232,253,273,293,315,335], datum.value)]",
"labelAlign": "left", "labelBaseline": "middle", "labelPadding": 3, "labelDx": 1, "tickSize": 3,
"labelFont": "Liberation Sans", "labelFontSize": 10.5, "labelFontWeight": "bold", "labelColor": "#000000",
"labelOverlap": false, "labelFlush": false,
"domainColor": "#a0a0a0", "tickColor": "#a0a0a0"}}
},
"layer": [
{"data": {"name": "bl"}, "mark": {"type": "area", "clip": true, "interpolate": "monotone"},
"encoding": {
"y": {"field": "lo", "type": "quantitative", "scale": {"domain": [5.459, 10.684], "nice": false, "zero": false},
"axis": {"orient": "right", "title": null, "grid": false,
"values": [5.6,5.8,6,6.2,6.4,6.6,6.8,7,7.2,7.4,7.6,7.8,8,8.2,8.4,8.6,8.8,9,9.2,9.4,9.6,9.8,10,10.2,10.4,10.6],
"format": ".1f", "labelAlign": "right", "labelBaseline": "middle", "tickSize": 3, "labelPadding": 44,
"labelFont": "Liberation Sans", "labelFontSize": 11, "labelFontWeight": "bold", "labelColor": "#000000",
"labelOverlap": false, "labelFlush": false,
"domainColor": "#a0a0a0", "tickColor": "#a0a0a0"}},
"y2": {"field": "hi"},
"color": {"field": "k", "type": "nominal", "legend": null,
"scale": {"domain": ["pink","orange","green","sea","salmon"], "range": ["#ffb3b3","#ff661a","#1ae61a","#3cb371","#ff7b7b"]}},
"detail": {"field": "s"}
}},
{"data": {"name": "bs"}, "mark": {"type": "area", "clip": true, "interpolate": "monotone"},
"encoding": {
"y": {"field": "lo", "type": "quantitative", "scale": {"domain": [5.459, 10.684], "nice": false, "zero": false},
"axis": {"orient": "right", "title": null, "grid": false,
"values": [5.6,5.8,6,6.2,6.4,6.6,6.8,7,7.2,7.4,7.6,7.8,8,8.2,8.4,8.6,8.8,9,9.2,9.4,9.6,9.8,10,10.2,10.4,10.6],
"format": ".1f", "labelAlign": "right", "labelBaseline": "middle", "tickSize": 3, "labelPadding": 44,
"labelFont": "Liberation Sans", "labelFontSize": 11, "labelFontWeight": "bold", "labelColor": "#000000",
"labelOverlap": false, "labelFlush": false,
"domainColor": "#a0a0a0", "tickColor": "#a0a0a0"}},
"y2": {"field": "hi"},
"color": {"field": "k", "type": "nominal", "legend": null,
"scale": {"domain": ["pink","orange","green","sea","salmon"], "range": ["#ffb3b3","#ff661a","#1ae61a","#3cb371","#ff7b7b"]}},
"detail": {"field": "s"}
}},
{"data": {"name": "c"}, "mark": {"type": "rule", "strokeWidth": 1, "clip": true},
"encoding": {
"y": {"field": "l", "type": "quantitative", "scale": {"domain": [5.459, 10.684], "nice": false, "zero": false},
"axis": {"orient": "right", "title": null, "grid": false,
"values": [5.6,5.8,6,6.2,6.4,6.6,6.8,7,7.2,7.4,7.6,7.8,8,8.2,8.4,8.6,8.8,9,9.2,9.4,9.6,9.8,10,10.2,10.4,10.6],
"format": ".1f", "labelAlign": "right", "labelBaseline": "middle", "tickSize": 3, "labelPadding": 44,
"labelFont": "Liberation Sans", "labelFontSize": 11, "labelFontWeight": "bold", "labelColor": "#000000",
"labelOverlap": false, "labelFlush": false,
"domainColor": "#a0a0a0", "tickColor": "#a0a0a0"}},
"y2": {"field": "h"},
"color": {"condition": {"test": "datum.c >= datum.o", "value": "#808080"}, "value": "#000000"}
}},
{"data": {"name": "c"}, "mark": {"type": "bar", "size": 2, "strokeWidth": 1, "clip": true},
"encoding": {
"y": {"field": "o", "type": "quantitative", "scale": {"domain": [5.459, 10.684], "nice": false, "zero": false},
"axis": {"orient": "right", "title": null, "grid": false,
"values": [5.6,5.8,6,6.2,6.4,6.6,6.8,7,7.2,7.4,7.6,7.8,8,8.2,8.4,8.6,8.8,9,9.2,9.4,9.6,9.8,10,10.2,10.4,10.6],
"format": ".1f", "labelAlign": "right", "labelBaseline": "middle", "tickSize": 3, "labelPadding": 44,
"labelFont": "Liberation Sans", "labelFontSize": 11, "labelFontWeight": "bold", "labelColor": "#000000",
"labelOverlap": false, "labelFlush": false,
"domainColor": "#a0a0a0", "tickColor": "#a0a0a0"}},
"y2": {"field": "c"},
"fill": {"condition": {"test": "datum.c >= datum.o", "value": "#ffffff"}, "value": "#000000"},
"stroke": {"condition": {"test": "datum.c >= datum.o", "value": "#808080"}, "value": "#000000"}
}}
]
},
{
"width": 952,
"height": 92,
"title": {"text": "Volume", "anchor": "start", "frame": "group", "orient": "top", "offset": -18, "baseline": "middle", "font": "Liberation Sans", "fontSize": 10, "fontWeight": "bold", "color": "#8383c3", "dx": 3},
"encoding": {
"x": {"field": "i", "type": "quantitative", "scale": {"domain": [-15.8, 360.2], "nice": false, "zero": false},
"axis": {"orient": "top", "title": null, "grid": false, "labels": false, "ticks": false, "domainColor": "#8c8c8c", "domainWidth": 1.5}}
},
"layer": [
{"data": {"name": "c"}, "mark": {"type": "rule", "strokeWidth": 1.5, "color": "#8f8fd6", "clip": true},
"encoding": {
"y": {"field": "v", "type": "quantitative", "scale": {"domain": [-0.2, 6.566], "nice": false, "zero": false},
"axis": {"orient": "right", "title": null, "grid": false, "values": [0,2,4,6],
"labelExpr": "datum.value == 0 ? '0' : datum.value + 'M'",
"labelAlign": "right", "labelBaseline": "middle", "tickSize": 3, "labelPadding": 42,
"labelFont": "Liberation Sans", "labelFontSize": 10, "labelFontWeight": "bold", "labelColor": "#000000",
"labelOverlap": false, "labelFlush": false,
"domainColor": "#a0a0a0", "tickColor": "#a0a0a0"}},
"y2": {"datum": 0}
}},
{"data": {"name": "m"}, "mark": {"type": "line", "color": "#e52020", "strokeWidth": 1.5, "clip": true},
"encoding": {
"y": {"field": "m", "type": "quantitative", "scale": {"domain": [-0.2, 6.566], "nice": false, "zero": false},
"axis": {"orient": "right", "title": null, "grid": false, "values": [0,2,4,6],
"labelExpr": "datum.value == 0 ? '0' : datum.value + 'M'",
"labelAlign": "right", "labelBaseline": "middle", "tickSize": 3, "labelPadding": 42,
"labelFont": "Liberation Sans", "labelFontSize": 10, "labelFontWeight": "bold", "labelColor": "#000000",
"labelOverlap": false, "labelFlush": false,
"domainColor": "#a0a0a0", "tickColor": "#a0a0a0"}}
}}
]
}
]
}
